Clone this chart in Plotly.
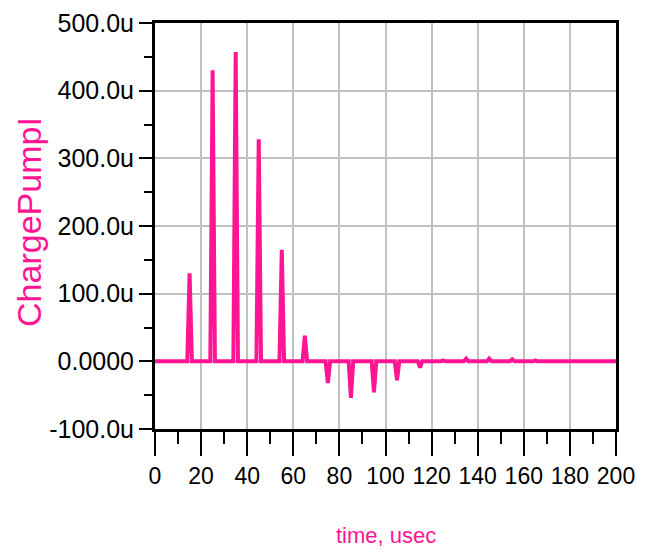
import plotly.graph_objects as go

# time (usec) and ChargePumpI (in micro-amps)
time_us = [0, 14, 15, 16, 24, 25, 26, 34, 35, 36, 44, 45, 46, 54, 55, 56,
           64, 65, 66, 74, 75, 76, 84, 85, 86, 94, 95, 96, 104, 105, 106,
           114, 115, 116, 124, 125, 126, 134, 135, 136, 144, 145, 146,
           154, 155, 156, 164, 165, 166, 200]
charge_pump_uA = [0, 0, 130, 0, 0, 430, 0, 0, 457, 0, 0, 328, 0, 0, 165, 0,
                  0, 38, 0, 0, -32, 0, 0, -54, 0, 0, -46, 0, 0, -28, 0,
                  0, -9, 0, 0, 1.5, 0, 0, 4, 0, 0, 4, 0,
                  0, 3, 0, 0, 1.5, 0, 0]

x_ticks = [0, 20, 40, 60, 80, 100, 120, 140, 160, 180, 200]
y_ticks = [-100, 0, 100, 200, 300, 400, 500]
y_tick_text = ["-100.0u", "0.0000", "100.0u", "200.0u", "300.0u", "400.0u", "500.0u"]

PINK = "#FF1493"
FONT = "Liberation Sans, Arial, sans-serif"

fig = go.Figure()
fig.add_trace(go.Scatter(x=time_us, y=charge_pump_uA, mode="lines",
                         line=dict(color=PINK, width=4), showlegend=False))

fig.update_layout(
    width=638, height=545,
    margin=dict(l=147, r=30, t=15, b=124),
    paper_bgcolor="white", plot_bgcolor="white",
    font=dict(family=FONT, color="black"),
)
fig.update_xaxes(
    range=[0, 200], tickvals=x_ticks, ticktext=[str(v) for v in x_ticks],
    tickangle=0, automargin=False,
    showgrid=True, gridcolor="#c0c0c0", gridwidth=2,
    showline=True, linecolor="black", linewidth=3, mirror=True,
    ticks="outside", ticklen=24, tickwidth=2, tickcolor="black",
    tickfont=dict(size=23, family=FONT),
    minor=dict(dtick=10, tick0=0, ticks="outside", ticklen=12, tickwidth=2,
               tickcolor="black", showgrid=False),
    zeroline=False,
)
fig.update_yaxes(
    range=[-100, 500], tickvals=y_ticks, ticktext=y_tick_text,
    automargin=False,
    showgrid=True, gridcolor="#c0c0c0", gridwidth=2,
    showline=True, linecolor="black", linewidth=3, mirror=True,
    ticks="outside", ticklen=13, tickwidth=2, tickcolor="black",
    tickfont=dict(size=25, family=FONT),
    minor=dict(dtick=50, tick0=0, ticks="outside", ticklen=8, tickwidth=2,
               tickcolor="black", showgrid=False),
    zeroline=False,
)
fig.add_annotation(text="time, usec", xref="paper", yref="paper",
                   x=0.5, y=0, yshift=-106, xanchor="center", yanchor="middle",
                   showarrow=False, font=dict(size=22, color=PINK, family=FONT))
fig.add_annotation(text="ChargePumpI", xref="paper", yref="paper",
                   x=0, y=0.51, xshift=-126, xanchor="center", yanchor="middle",
                   textangle=-90, showarrow=False,
                   font=dict(size=34, color=PINK, family=FONT))

fig.write_html("out.html")
